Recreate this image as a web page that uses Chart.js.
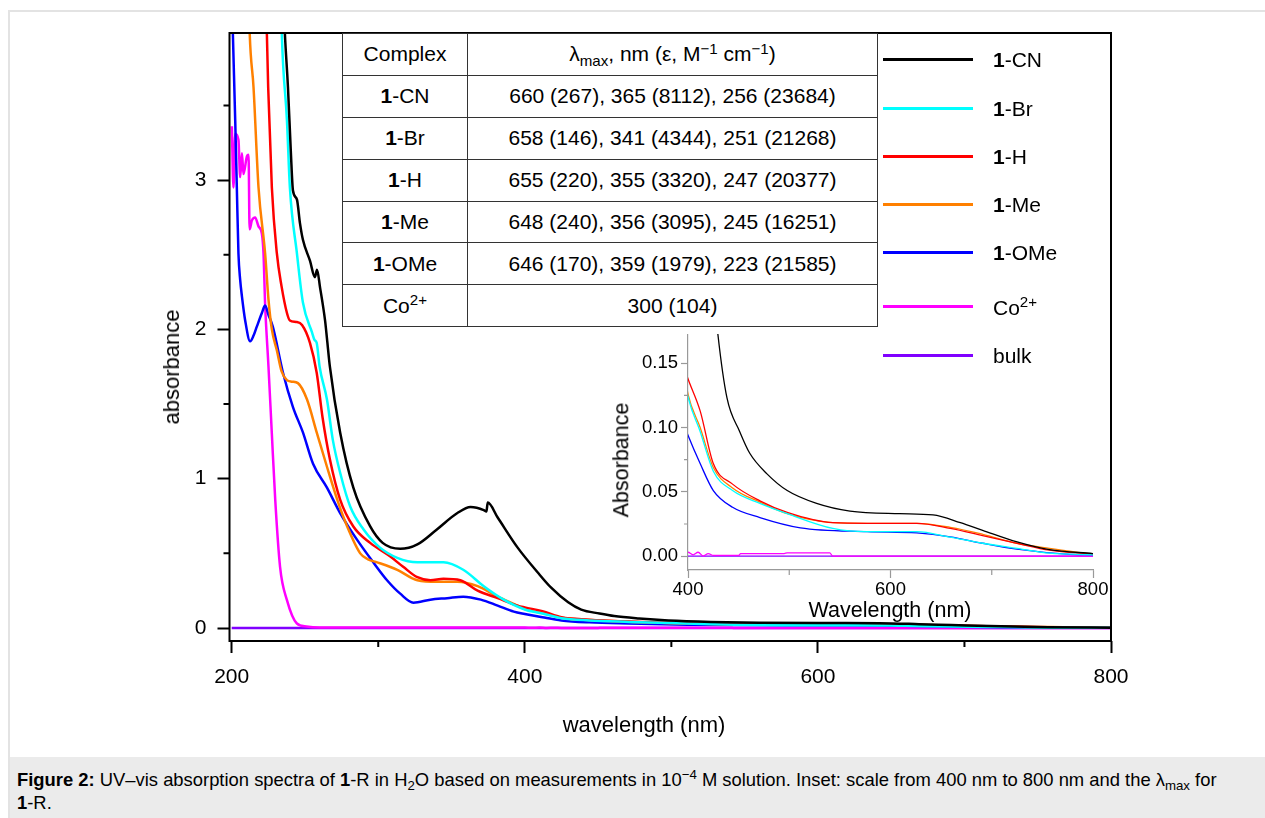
<!DOCTYPE html>
<html>
<head>
<meta charset="utf-8">
<script src="https://cdn.jsdelivr.net/npm/chart.js@4.4.1/dist/chart.umd.min.js"></script>
<style>
  html, body { margin: 0; padding: 0; background: #fff; }
  body { position: relative; width: 1265px; height: 818px; overflow: hidden;
         font-family: "Liberation Sans", Arial, sans-serif; color: #000; }
  #frame { position: absolute; left: 8px; top: 10px; width: 1270px; height: 820px;
           border-top: 2px solid #e3e3e3; border-left: 2px solid #e3e3e3; }
  #caption { position: absolute; left: 10px; top: 757px; width: 1255px; height: 61px; background: #ebebeb; }
  #caption p { margin: 0; position: absolute; left: 7px; top: 11px; font-size: 18.4px; line-height: 23px; white-space: nowrap; }
  sup, sub { font-size: 72%; line-height: 0; position: relative; vertical-align: baseline; }
  sup { top: -0.5em; }
  sub { bottom: -0.28em; }
  canvas { position: absolute; }
  #mainChart { left: 0; top: 0; }
  #insetChart { left: 600px; top: 320px; }
  .title { position: absolute; white-space: nowrap; line-height: 1; transform: translate(-50%, -50%); }
  .rot { transform: translate(-50%, -50%) rotate(-90deg); }
  #table { position: absolute; left: 342px; top: 33px; width: 536px; border-collapse: collapse;
           background: #fff; font-size: 21px; }
  #table td { border: 1.5px solid #333; height: 40.9px; padding: 0; text-align: center; }
  #table td:first-child { width: 124px; }
  .lg-line { position: absolute; left: 883px; width: 90px; height: 3px; }
  .lg-text { position: absolute; left: 993px; font-size: 21px; line-height: 1; transform: translateY(-50%); white-space: nowrap; }
</style>
</head>
<body>
<div id="frame"></div>
<canvas id="mainChart" width="1265" height="757"></canvas>
<canvas id="insetChart" width="520" height="310"></canvas>

<table id="table">
  <tr><td>Complex</td><td>λ<sub>max</sub>, nm (ε, M<sup>−1</sup> cm<sup>−1</sup>)</td></tr>
  <tr><td><b>1</b>-CN</td><td>660 (267), 365 (8112), 256 (23684)</td></tr>
  <tr><td><b>1</b>-Br</td><td>658 (146), 341 (4344), 251 (21268)</td></tr>
  <tr><td><b>1</b>-H</td><td>655 (220), 355 (3320), 247 (20377)</td></tr>
  <tr><td><b>1</b>-Me</td><td>648 (240), 356 (3095), 245 (16251)</td></tr>
  <tr><td><b>1</b>-OMe</td><td>646 (170), 359 (1979), 223 (21585)</td></tr>
  <tr><td>Co<sup>2+</sup></td><td>300 (104)</td></tr>
</table>

<div id="legend"></div>

<div class="title rot" style="left:172px; top:367px; font-size:22px;">absorbance</div>
<div class="title" style="left:644px; top:725px; font-size:22px;">wavelength (nm)</div>
<div class="title rot" style="left:622px; top:460px; font-size:21.5px;">Absorbance</div>
<div class="title" style="left:890px; top:611px; font-size:21.5px;">Wavelength (nm)</div>

<div id="caption"><p><b>Figure 2:</b> UV–vis absorption spectra of <b>1</b>-R in H<sub>2</sub>O based on measurements in 10<sup>−4</sup> M solution. Inset: scale from 400 nm to 800 nm and the λ<sub>max</sub> for<br><b>1</b>-R.</p></div>

<script>
// Spectra: wavelength (nm) and absorbance for each sample
const cnNm  = [235, 236.3, 238.4, 240.4, 241.8, 244.5, 246.6, 248.6, 253.4, 256.8, 258.2, 260.3, 263.7, 265, 267, 274, 283, 294.5, 303, 315, 326.7, 340, 354, 363, 372, 373.8, 374.7, 381.5, 395, 409, 418, 429.6, 438.5, 451, 461, 478, 498, 527, 560, 609, 642, 669, 691, 725, 757, 800];
const cnAbs = [4.3, 3.98, 3.62, 3.18, 2.93, 2.87, 2.71, 2.6, 2.46, 2.35, 2.40, 2.28, 2.06, 1.94, 1.75, 1.31, 0.94, 0.68, 0.57, 0.53, 0.56, 0.66, 0.77, 0.81, 0.79, 0.78, 0.84, 0.74, 0.54, 0.37, 0.27, 0.172, 0.123, 0.097, 0.08, 0.064, 0.051, 0.041, 0.035, 0.033, 0.032, 0.026, 0.020, 0.011, 0.005, 0.002];

const brNm  = [233.5, 234.2, 237.7, 239.7, 244.5, 248.6, 254.8, 256.5, 258, 260, 265, 269, 274, 281, 290, 301, 313, 326.7, 344.5, 358, 372, 385.6, 400, 412, 425, 444, 471, 498, 543, 577, 626, 659, 691, 725, 757, 800];
const brAbs = [4.3, 3.98, 3.4, 2.95, 2.51, 2.18, 1.98, 1.93, 1.91, 1.75, 1.53, 1.26, 1.04, 0.81, 0.66, 0.54, 0.47, 0.44, 0.44, 0.39, 0.28, 0.19, 0.124, 0.097, 0.066, 0.051, 0.041, 0.033, 0.0215, 0.019, 0.019, 0.0147, 0.010, 0.006, 0.0023, 0.001];

const hNm  = [223.5, 224, 224.9, 227.4, 230.8, 234, 237.7, 239.7, 244, 248, 253.4, 258, 262, 267, 274, 283, 294.5, 308, 317, 326.7, 335.6, 344.5, 356, 367.8, 381.5, 395, 400, 412, 425, 444, 471, 498, 543, 577, 626, 659, 691, 725, 757, 800];
const hAbs = [4.3, 3.98, 3.62, 2.95, 2.51, 2.29, 2.11, 2.06, 2.05, 2.03, 1.91, 1.71, 1.41, 1.13, 0.86, 0.68, 0.57, 0.48, 0.41, 0.34, 0.32, 0.33, 0.32, 0.25, 0.20, 0.15, 0.138, 0.113, 0.072, 0.056, 0.043, 0.034, 0.026, 0.0255, 0.0255, 0.0216, 0.016, 0.010, 0.0046, 0.0015];

const meNm  = [211.5, 212.3, 214.9, 218.3, 222.8, 225.1, 227.4, 230.8, 234, 237.7, 241, 245.2, 251.4, 258, 265, 272, 278.8, 287.7, 293, 299.3, 313, 326.7, 340.4, 354, 367.8, 381.5, 395, 400, 412, 425, 444, 471, 498, 543, 577, 626, 659, 691, 725, 757, 800];
const meAbs = [4.3, 3.98, 3.62, 2.95, 2.51, 2.2, 2.0, 1.86, 1.72, 1.66, 1.65, 1.64, 1.53, 1.31, 1.08, 0.86, 0.68, 0.50, 0.46, 0.44, 0.39, 0.32, 0.31, 0.31, 0.28, 0.21, 0.15, 0.126, 0.1, 0.069, 0.053, 0.042, 0.033, 0.026, 0.0255, 0.0255, 0.0224, 0.017, 0.010, 0.006, 0.0015];

const omeNm  = [200, 200.8, 202.4, 203.5, 204.6, 205.8, 207, 209.2, 212.6, 215, 217.2, 220.6, 222.8, 225, 228, 235, 241.8, 248.6, 255.5, 265, 274, 285.6, 296.6, 306, 315, 324, 335.6, 347, 358, 370, 381.5, 392.5, 400, 412, 425, 444, 471, 511, 577, 626, 659, 691, 725, 774, 800];
const omeAbs = [4.3, 3.98, 3.4, 2.95, 2.51, 2.33, 2.22, 2.06, 1.92, 1.96, 2.02, 2.11, 2.16, 2.1, 2.02, 1.71, 1.48, 1.31, 1.10, 0.94, 0.77, 0.59, 0.44, 0.32, 0.23, 0.17, 0.19, 0.20, 0.21, 0.19, 0.15, 0.11, 0.094, 0.072, 0.051, 0.038, 0.030, 0.022, 0.019, 0.018, 0.015, 0.010, 0.0054, 0.0015, 0.001];

const coNm  = [200.1, 201.2, 202.4, 204.6, 205.8, 207, 208, 210.4, 211.5, 212.2, 213.8, 216, 218.3, 220.6, 221.7, 222.8, 225.1, 227.4, 229.7, 233, 237.6, 244.5, 251, 260, 300, 350, 400, 405, 410, 415, 420, 425, 450, 452, 495, 498, 540, 543, 800];
const coAbs = [3.36, 2.95, 3.31, 3.27, 3.02, 3.18, 3.04, 3.16, 3.17, 2.67, 2.73, 2.75, 2.69, 2.64, 2.51, 2.17, 1.75, 1.3, 0.86, 0.41, 0.19, 0.03, 0.01, 0.004, 0.003, 0.003, 0.003, 0.001, 0.003, 0.0, 0.002, 0.0005, 0.0005, 0.002, 0.002, 0.0025, 0.0025, 0.0, 0.0];

const bulkNm  = [200, 800];
const bulkAbs = [0, 0];

const seriesLabels = ['1-CN', '1-Br', '1-H', '1-Me', '1-OMe', 'Co2+', 'bulk'];
const legendHtml   = ['<b>1</b>-CN', '<b>1</b>-Br', '<b>1</b>-H', '<b>1</b>-Me', '<b>1</b>-OMe', 'Co<sup>2+</sup>', 'bulk'];
const seriesColors = ['#000000', '#00ffff', '#ff0000', '#ff8000', '#0000ff', '#ff00ff', '#8000ff'];

// axis ticks
const mainXTicks  = [200, 400, 600, 800];
const mainXMinor  = [300, 500, 700];
const mainYTicks  = [0, 1, 2, 3];
const mainYMinor  = [0.5, 1.5, 2.5, 3.5];
const insetXTicks = [400, 600, 800];
const insetXMinor = [500, 700];
const insetYTicks = [0, 0.05, 0.10, 0.15];
const insetYMinor = [0.025, 0.075, 0.125];

const spectra = [
    [cnNm, cnAbs], [brNm, brAbs], [hNm, hAbs], [meNm, meAbs],
    [omeNm, omeAbs], [coNm, coAbs], [bulkNm, bulkAbs]
];

function makeDatasets(width) {
    return spectra.map(function(s, i) {
        return {
            label: seriesLabels[i],
            data: s[0].map((x, j) => ({ x: x, y: s[1][j] })),
            borderColor: seriesColors[i],
            borderWidth: width,
            pointRadius: 0,
            cubicInterpolationMode: 'monotone',
            fill: false
        };
    });
}

// short minor ticks and the closed frame
const minorTicks = {
    id: 'minorTicks',
    afterDraw(chart, args, opts) {
        const { ctx, chartArea: a } = chart;
        const x = chart.scales.x, y = chart.scales.y;
        ctx.save();
        ctx.strokeStyle = opts.color;
        ctx.lineWidth = opts.width;
        ctx.beginPath();
        opts.xMinor.forEach(v => {
            const px = x.getPixelForValue(v);
            ctx.moveTo(px, a.bottom);
            ctx.lineTo(px, a.bottom + opts.xLen);
        });
        opts.yMinor.forEach(v => {
            const py = y.getPixelForValue(v);
            ctx.moveTo(a.left, py);
            ctx.lineTo(a.left - opts.yLen, py);
        });
        ctx.stroke();
        if (opts.frame) {
            ctx.lineWidth = 2;
            ctx.strokeRect(a.left, a.top, a.right - a.left, a.bottom - a.top);
        }
        ctx.restore();
    }
};

const fontFamily = '"Liberation Sans", Arial, sans-serif';

new Chart(document.getElementById('mainChart'), {
    type: 'line',
    data: { datasets: makeDatasets(2.5) },
    options: {
        responsive: false,
        animation: false,
        events: [],
        layout: { padding: { left: 0, top: 33, right: 154, bottom: 0 } },
        plugins: {
            legend: { display: false },
            tooltip: { enabled: false },
            minorTicks: { xMinor: mainXMinor, yMinor: mainYMinor, xLen: 6, yLen: 6, color: '#000', width: 2, frame: true }
        },
        scales: {
            x: {
                type: 'linear', min: 198.5, max: 800,
                afterBuildTicks: s => { s.ticks = mainXTicks.map(v => ({ value: v })); },
                afterFit: s => { s.height = 116; },
                border: { display: false },
                grid: { drawOnChartArea: false, tickLength: 12, tickWidth: 2, tickColor: '#000' },
                ticks: { color: '#000', padding: 12, maxRotation: 0, autoSkip: false,
                         font: { family: fontFamily, size: 21 } }
            },
            y: {
                type: 'linear', min: -0.087, max: 3.985,
                afterBuildTicks: s => { s.ticks = mainYTicks.map(v => ({ value: v })); },
                afterFit: s => { s.width = 229.5; },
                border: { display: false },
                grid: { drawOnChartArea: false, tickLength: 12, tickWidth: 2, tickColor: '#000' },
                ticks: { color: '#000', padding: 11, callback: v => String(v),
                         font: { family: fontFamily, size: 21 } }
            }
        }
    },
    plugins: [minorTicks]
});

new Chart(document.getElementById('insetChart'), {
    type: 'line',
    data: { datasets: makeDatasets(1.3) },
    options: {
        responsive: false,
        animation: false,
        events: [],
        layout: { padding: { left: 0, top: 13, right: 27, bottom: 0 } },
        plugins: {
            legend: { display: false },
            tooltip: { enabled: false },
            minorTicks: { xMinor: insetXMinor, yMinor: insetYMinor, xLen: 5, yLen: 4, color: '#999', width: 1.2, frame: false }
        },
        scales: {
            x: {
                type: 'linear', min: 400, max: 800,
                afterBuildTicks: s => { s.ticks = insetXTicks.map(v => ({ value: v })); },
                afterFit: s => { s.height = 60; },
                border: { display: true, color: '#999', width: 1.2 },
                grid: { drawOnChartArea: false, tickLength: 8, tickWidth: 1.2, tickColor: '#999' },
                ticks: { color: '#000', padding: 1, maxRotation: 0, autoSkip: false,
                         font: { family: fontFamily, size: 18.5 } }
            },
            y: {
                type: 'linear', min: -0.0108, max: 0.1727,
                afterBuildTicks: s => { s.ticks = insetYTicks.map(v => ({ value: v })); },
                afterFit: s => { s.width = 88; },
                border: { display: true, color: '#999', width: 1.2 },
                grid: { drawOnChartArea: false, tickLength: 7, tickWidth: 1.2, tickColor: '#999' },
                ticks: { color: '#000', padding: 3, callback: v => v.toFixed(2),
                         font: { family: fontFamily, size: 18.5 } }
            }
        }
    },
    plugins: [minorTicks]
});

// legend placed at the right of the table, as in the figure
const legendY = [59.3, 108.3, 156.3, 204.3, 252.3, 306.7, 355];
const legendBox = document.getElementById('legend');
seriesLabels.forEach(function(name, i) {
    const line = document.createElement('div');
    line.className = 'lg-line';
    line.style.top = (legendY[i] - 1.5) + 'px';
    line.style.background = seriesColors[i];
    legendBox.appendChild(line);
    const text = document.createElement('div');
    text.className = 'lg-text';
    text.style.top = legendY[i] + 'px';
    text.innerHTML = legendHtml[i];
    legendBox.appendChild(text);
});
</script>
</body>
</html>
